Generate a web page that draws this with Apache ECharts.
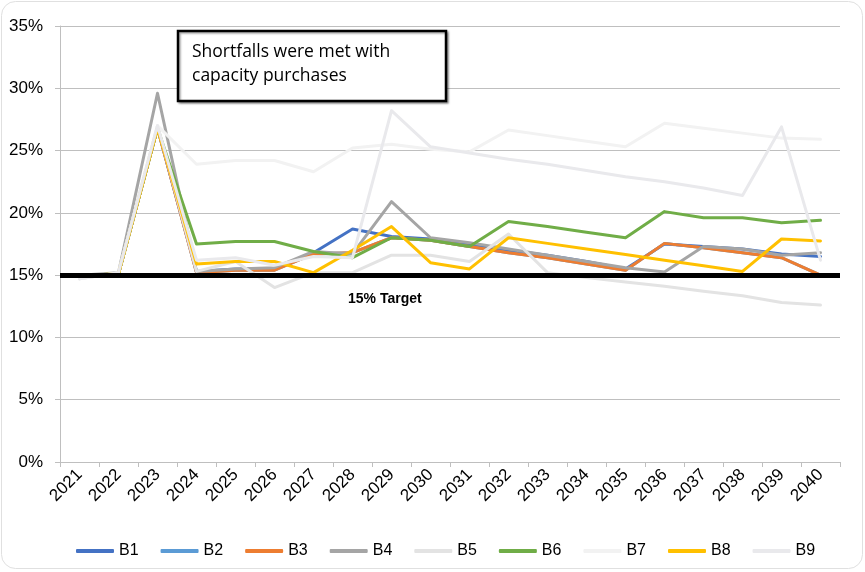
<!DOCTYPE html>
<html>
<head>
<meta charset="utf-8">
<script src="https://cdn.jsdelivr.net/npm/echarts@6/dist/echarts.min.js"></script>
<style>
html,body{margin:0;padding:0;background:#fff;}
#chart{width:865px;height:572px;}
</style>
</head>
<body>
<div id="chart"></div>
<script>
const years = ['2021','2022','2023','2024','2025','2026','2027','2028','2029','2030','2031','2032','2033','2034','2035','2036','2037','2038','2039','2040'];
const yTicks = [0, 5, 10, 15, 20, 25, 30, 35];
const targetValue = 15;
const targetLabel = '15% Target';
const noteText = 'Shortfalls were met with\ncapacity purchases';

const B1 = [15.0,15.1,26.8,15.3,15.5,15.5,16.8,18.7,18.1,17.9,17.5,17.0,16.6,16.1,15.5,17.5,17.3,17.1,16.7,16.5];
const B2 = [15.0,15.1,26.8,15.2,15.4,15.4,16.7,16.8,18.0,17.8,17.3,16.8,16.4,15.9,15.4,17.55,17.2,16.8,16.4,15.0];
const B3 = [15.0,15.1,26.8,15.2,15.4,15.4,16.7,16.8,18.0,17.8,17.3,16.8,16.4,15.9,15.4,17.55,17.2,16.8,16.4,15.0];
const B4 = [15.0,15.2,29.6,15.3,15.5,15.6,16.9,16.7,20.9,18.0,17.6,17.1,16.6,16.1,15.6,15.25,17.3,17.1,16.6,16.8];
const B5 = [14.7,15.2,27.0,15.3,16.1,14.0,15.2,15.2,16.6,16.6,16.1,18.3,15.2,14.8,14.45,14.1,13.7,13.35,12.8,12.6];
const B6 = [15.0,15.1,26.8,17.5,17.7,17.7,16.9,16.4,18.0,17.8,17.3,19.3,18.9,18.45,18.0,20.1,19.6,19.6,19.2,19.4];
const B7 = [14.7,15.2,27.0,23.9,24.2,24.2,23.3,25.2,25.5,25.1,24.9,26.65,26.2,25.75,25.3,27.2,26.8,26.4,26.0,25.9];
const B8 = [15.0,15.1,26.8,15.9,16.1,16.1,15.2,17.0,18.9,16.0,15.5,18.0,17.55,17.1,16.65,16.2,15.75,15.3,17.9,17.75];
const B9 = [14.7,15.2,27.0,16.2,16.4,15.8,16.5,16.4,28.2,25.3,24.8,24.3,23.9,23.4,22.9,22.5,22.0,21.4,26.9,16.2];

const seriesNames = ['B1','B2','B3','B4','B5','B6','B7','B8','B9'];
const seriesData = [B1,B2,B3,B4,B5,B6,B7,B8,B9];
const seriesColors = ['#4472C4','#5B9BD5','#ED7D31','#A5A5A5','#E3E3E3','#70AD47','#F2F2F2','#FFC000','#E9E9EC'];

const series = seriesNames.map((n, i) => ({
  name: n,
  type: 'line',
  data: seriesData[i],
  symbol: 'none',
  color: seriesColors[i],
  lineStyle: { width: 3, color: seriesColors[i], cap: 'round', join: 'round' }
}));
series.push({
  name: 'Target',
  type: 'line',
  data: [],
  silent: true,
  z: 10,
  markLine: {
    symbol: 'none',
    silent: true,
    label: { show: false },
    lineStyle: { color: '#000', width: 5, type: 'solid' },
    data: [{ yAxis: targetValue }]
  }
});

const chart = echarts.init(document.getElementById('chart'));
chart.setOption({
  animation: false,
  backgroundColor: '#fff',
  grid: { left: 60, right: 25, top: 26, bottom: 110, containLabel: false },
  xAxis: {
    type: 'category',
    data: years,
    boundaryGap: true,
    axisLine: { lineStyle: { color: '#bfbfbf', width: 1 } },
    axisTick: { show: true, length: 5, lineStyle: { color: '#bfbfbf' } },
    axisLabel: { rotate: 45, fontSize: 17, color: '#000', fontFamily: 'Liberation Sans, Arial, sans-serif', margin: 10, interval: 0 },
    splitLine: { show: false }
  },
  yAxis: {
    type: 'value',
    min: yTicks[0],
    max: yTicks[yTicks.length - 1],
    interval: 5,
    axisLine: { show: true, lineStyle: { color: '#bfbfbf', width: 1 } },
    axisTick: { show: true, length: 5, lineStyle: { color: '#bfbfbf' } },
    axisLabel: { formatter: '{value}%', fontSize: 17, color: '#000', fontFamily: 'Liberation Sans, Arial, sans-serif', margin: 17 },
    splitLine: { show: true, lineStyle: { color: '#bfbfbf', width: 1 } }
  },
  legend: {
    data: seriesNames,
    left: 71,
    top: 538,
    itemWidth: 38,
    itemHeight: 4,
    itemGap: 22,
    icon: 'roundRect',
    textStyle: { fontSize: 16, color: '#000', fontFamily: 'Liberation Sans, Arial, sans-serif' }
  },
  graphic: [
    {
      type: 'rect',
      silent: true,
      z: -1,
      shape: { x: 1.5, y: 1.5, width: 861, height: 567, r: 14 },
      style: { fill: 'none', stroke: '#e0e0e0', lineWidth: 1 }
    },
    {
      type: 'rect',
      z: 100,
      shape: { x: 178, y: 31, width: 268, height: 70 },
      style: { fill: '#fff', stroke: '#000', lineWidth: 2.5, shadowBlur: 2, shadowOffsetX: 1.5, shadowOffsetY: 1.5, shadowColor: 'rgba(0,0,0,0.35)' }
    },
    {
      type: 'text',
      z: 101,
      left: 192,
      top: 40,
      style: { text: noteText, font: '17.5px "Open Sans", sans-serif', fill: '#000', lineHeight: 24 }
    },
    {
      type: 'text',
      z: 101,
      left: 348,
      top: 292,
      style: { text: targetLabel, font: 'bold 14px "Liberation Sans", Arial, sans-serif', fill: '#000' }
    }
  ],
  series: series
});
</script>
</body>
</html>
